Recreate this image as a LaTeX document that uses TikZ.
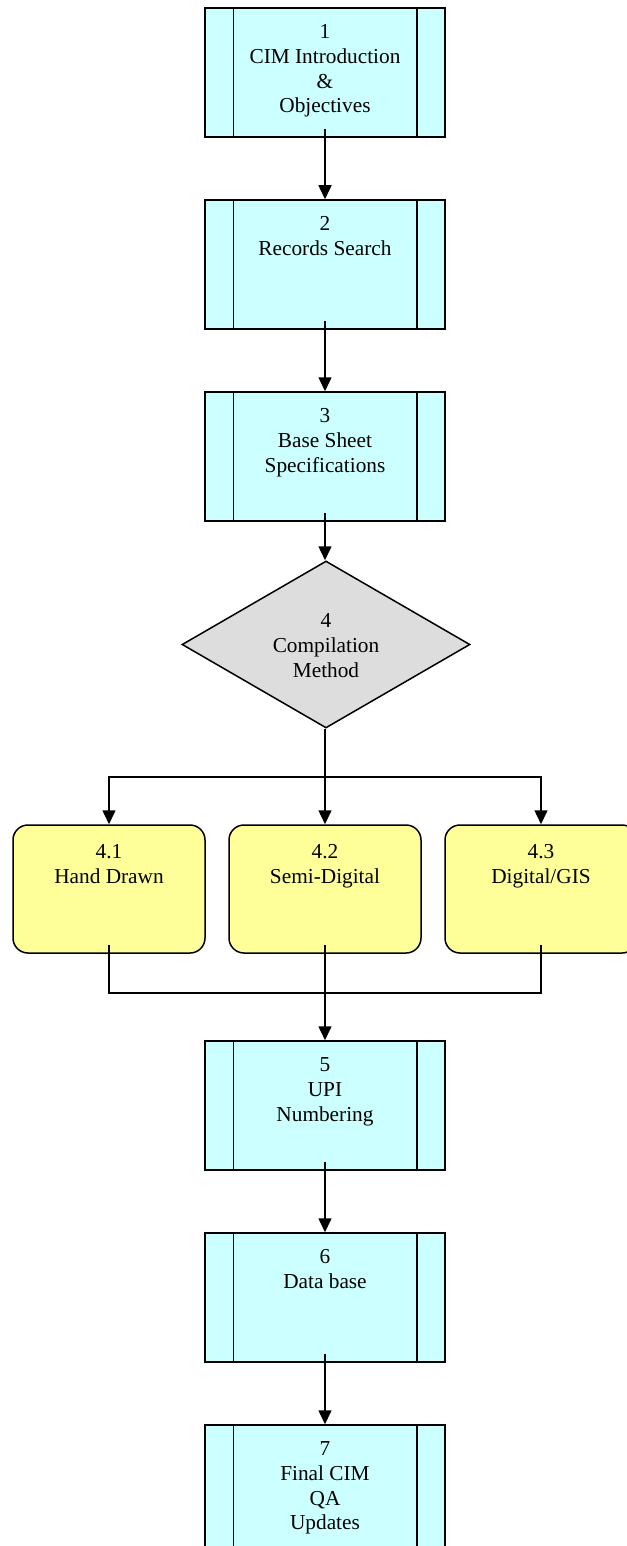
\documentclass[tikz,border=0pt]{standalone}
\usepackage{fontspec}
\setmainfont{Liberation Serif}
\usetikzlibrary{shapes.geometric,arrows.meta}
\definecolor{proccyan}{HTML}{CCFFFF}
\definecolor{optyellow}{HTML}{FFFF99}
\definecolor{decgray}{HTML}{DDDDDD}
\tikzset{
  proc/.style={draw=black, line width=1.5pt, fill=proccyan, minimum width=240pt, minimum height=129pt, inner sep=0pt},
  opt/.style={draw=black, line width=1.5pt, fill=optyellow, rounded corners=15pt, minimum width=192pt, minimum height=128pt, inner sep=0pt},
  dec/.style={draw=black, line width=1.5pt, fill=decgray, diamond, minimum width=288pt, minimum height=167pt, inner sep=0pt},
  txt/.style={align=center, inner sep=0pt, anchor=north, font=\fontsize{21.3}{24.8}\selectfont},
  conn/.style={draw=black, line width=1.5pt},
  arr/.style={conn, -{Triangle[length=14pt,width=13pt]}},
}
\newcommand{\firststrut}{\rule{0pt}{17pt}}
\begin{document}
\begin{tikzpicture}[x=1pt,y=-1pt]
\useasboundingbox[fill=white] (0,0) rectangle (626,1546);
% process boxes
\node[proc] (b1) at (325,72.5) {};
\node[proc] (b2) at (325,264.5) {};
\node[proc] (b3) at (325,456.5) {};
\node[proc] (b5) at (325,1105.5) {};
\node[proc] (b6) at (325,1297.5) {};
\node[proc] (b7) at (325,1489.5) {};
\foreach \b in {b1,b2,b3,b5,b6,b7}{
  \draw[line width=1.5pt] ([xshift=29pt]\b.north west) -- ([xshift=29pt]\b.south west);
  \draw[line width=1.5pt] ([xshift=-29pt]\b.north east) -- ([xshift=-29pt]\b.south east);
}
% decision
\node[dec] (d4) at (326,644.5) {};
% option boxes
\node[opt] (r1) at (109,889) {};
\node[opt] (r2) at (325,889) {};
\node[opt] (r3) at (541,889) {};
% texts
\node[txt] (t1) at ([yshift=-14pt]b1.north) {\firststrut 1\\CIM Introduction\\\&\\Objectives};
\node[txt] (t2) at ([yshift=-14pt]b2.north) {\firststrut 2\\Records Search};
\node[txt] (t3) at ([yshift=-14pt]b3.north) {\firststrut 3\\Base Sheet\\Specifications};
\node[txt] (t4) at ([yshift=-50pt]d4.north) {\firststrut 4\\Compilation\\Method};
\node[txt] (t41) at ([yshift=-17pt]r1.north) {\firststrut 4.1\\Hand Drawn};
\node[txt] (t42) at ([yshift=-17pt]r2.north) {\firststrut 4.2\\Semi-Digital};
\node[txt] (t43) at ([yshift=-17pt]r3.north) {\firststrut 4.3\\Digital/GIS};
\node[txt] (t5) at ([yshift=-14pt]b5.north) {\firststrut 5\\UPI\\Numbering};
\node[txt] (t6) at ([yshift=-14pt]b6.north) {\firststrut 6\\Data base};
\node[txt] (t7) at ([yshift=-14pt]b7.north) {\firststrut 7\\Final CIM\\QA\\Updates};
% connectors
\draw[arr] ([yshift=9pt]b1.south) -- (b2.north);
\draw[arr] ([yshift=9pt]b2.south) -- (b3.north);
\draw[arr] ([yshift=9pt]b3.south) -- (d4.north -| b3.south);
\coordinate (split) at (325,777);
\draw[conn] (d4.south -| split) -- (split);
\draw[arr] (split) -| (r1.north);
\draw[arr] (split) -| (r3.north);
\draw[arr] (split) -- (r2.north);
\coordinate (merge) at (325,993);
\draw[conn] ([yshift=9pt]r1.south) |- (merge) -| ([yshift=9pt]r3.south);
\draw[arr] ([yshift=9pt]r2.south) -- (b5.north);
\draw[arr] ([yshift=9pt]b5.south) -- (b6.north);
\draw[arr] ([yshift=9pt]b6.south) -- (b7.north);
\end{tikzpicture}
\end{document}
